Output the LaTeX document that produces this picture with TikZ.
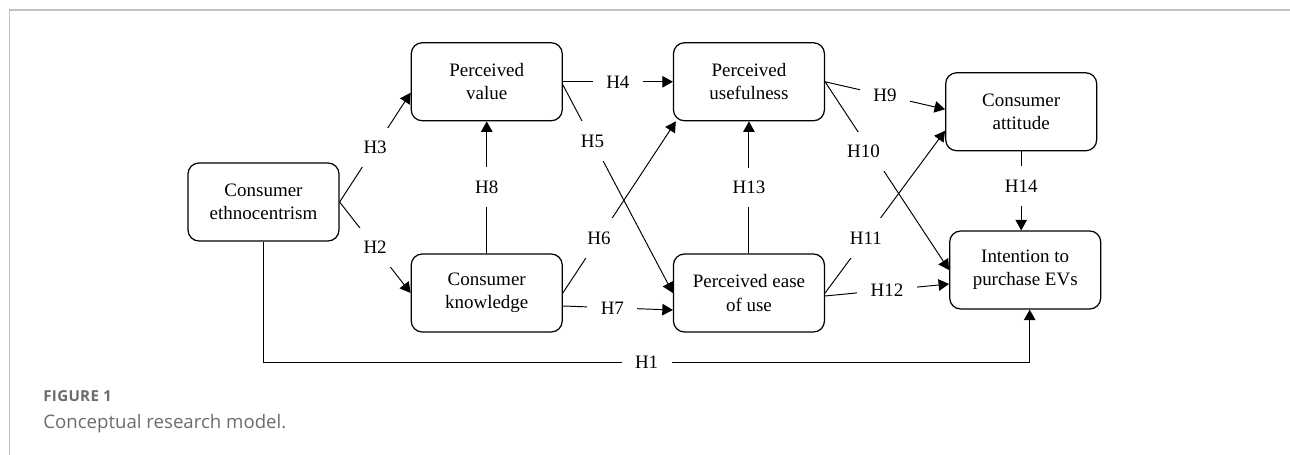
\documentclass[tikz,border=0pt]{standalone}
\usepackage{fontspec}
\setmainfont{Liberation Serif}
\newfontfamily\capfont{Open Sans}
\usetikzlibrary{positioning, arrows.meta}
\definecolor{framegray}{RGB}{192,192,192}
\definecolor{capgray}{RGB}{108,108,108}

\begin{document}
\begin{tikzpicture}[
  box/.style={rectangle, draw, line width=0.7pt, rounded corners=0.22cm, minimum width=3.02cm, minimum height=1.56cm, align=center, font=\fontsize{10.8}{13.3}\selectfont},
  hyp/.style={fill=white, inner sep=0.27cm, font=\fontsize{10.8}{13.3}\selectfont},
  arr/.style={-{Triangle[length=0.21cm, width=0.23cm]}, line width=0.55pt},
  node distance=2.2cm
]
\useasboundingbox (0,0) rectangle (25.8,-9.1);
\draw[framegray, line width=0.8pt] (0.19,-9.1) -- (0.19,-0.2) -- (25.8,-0.2);

\node[box] (E) at (5.27,-4.04) {Consumer\\ethnocentrism};
\node[box, anchor=south west] (V) at ([xshift=1.42cm, yshift=0.82cm]E.north east) {Perceived\\value};
\node[box, below=2.64cm of V] (K) {Consumer\\knowledge};
\node[box, right=of V] (U) {Perceived\\usefulness};
\node[box, right=of K] (P) {Perceived ease\\of use};
\node[box, anchor=north west] (A) at ([xshift=2.4cm, yshift=-0.6cm]U.north east) {Consumer\\attitude};
\node[box, below=1.58cm of A, xshift=0.08cm] (I) {Intention to\\purchase EVs};
\coordinate (h1) at ([xshift=0.09cm, yshift=-1.06cm]I.south);

\draw[arr] (E.east) -- node[hyp]{H3} ([yshift=-0.22cm]V.west);
\draw[arr] (E.east) -- node[hyp]{H2} (K.west);
\draw[arr] (K.north) -- node[hyp]{H8} (K.north |- V.south);
\draw[arr] (V.east) -- node[hyp]{H4} (U.west);
\draw[arr] ([yshift=-0.06cm]V.east) -- node[hyp, pos=0.27]{H5} (P.west);
\draw[arr] (K.east) -- node[hyp, pos=0.32]{H6} ([xshift=0.06cm]U.south west);
\draw[arr] ([yshift=-0.26cm]K.east) -- node[hyp, pos=0.45]{H7} ([yshift=-0.34cm]P.west);
\draw[arr] (P.north) -- node[hyp]{H13} (P.north |- U.south);
\draw[arr] (U.east) -- node[hyp]{H9} ([yshift=0.05cm]A.west);
\draw[arr] (U.east) -- node[hyp, pos=0.37, xshift=-0.15cm]{H10} (I.west);
\draw[arr] (P.east) -- node[hyp, pos=0.34]{H11} ([yshift=-0.38cm]A.west);
\draw[arr] ([yshift=-0.06cm]P.east) -- node[hyp]{H12} ([yshift=-0.28cm]I.west);
\draw[arr] (A.south) -- node[hyp, pos=0.44]{H14} (A.south |- I.north);
\draw[arr] (E.south) |- node[hyp, pos=0.75]{H1} (h1) -- (h1 |- I.south);

\node[anchor=base west, inner sep=0, text=capgray, font=\capfont\bfseries\fontsize{8.6}{10}\selectfont\addfontfeatures{LetterSpace=2}] (fig) at (0.86,-8.03) {FIGURE 1};
\node[anchor=base west, inner sep=0, text=capgray, font=\capfont\fontsize{10.6}{12}\selectfont] (cap) at (0.86,-8.58) {Conceptual research model.};
\end{tikzpicture}
\end{document}
